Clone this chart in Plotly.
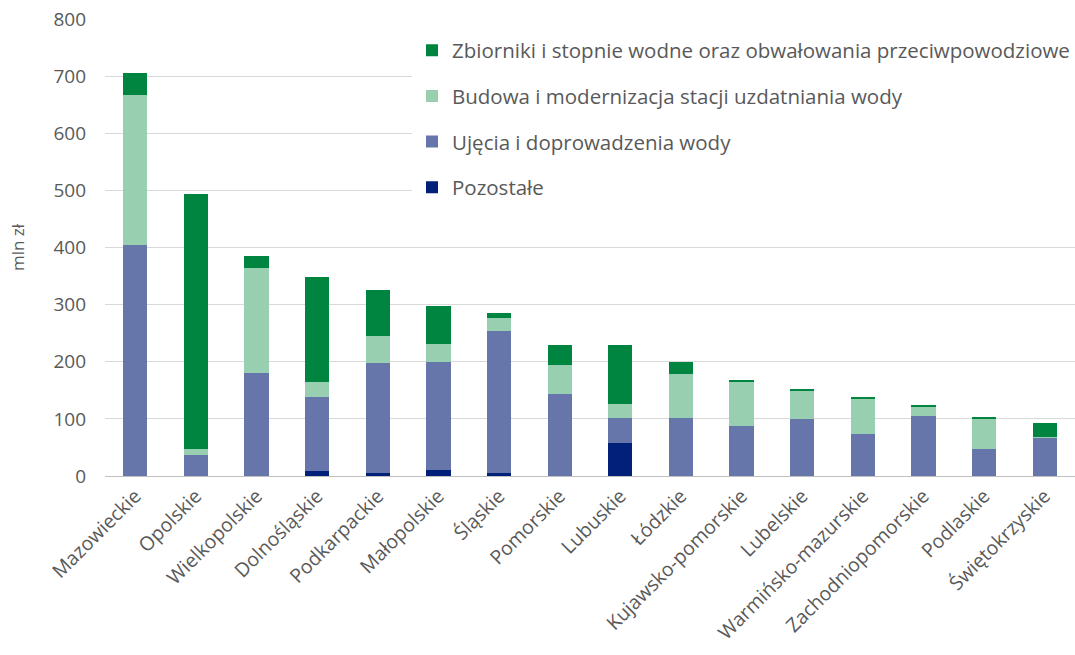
import plotly.graph_objects as go

regions = ["Mazowieckie", "Opolskie", "Wielkopolskie", "Dolnośląskie", "Podkarpackie",
           "Małopolskie", "Śląskie", "Pomorskie", "Lubuskie", "Łódzkie",
           "Kujawsko-pomorskie", "Lubelskie", "Warmińsko-mazurskie",
           "Zachodniopomorskie", "Podlaskie", "Świętokrzyskie"]

pozostale = [0, 0, 0, 9, 5, 10, 5, 0, 57, 0, 0, 0, 0, 0, 0, 0]
ujecia = [405, 36, 180, 129, 193, 190, 248, 143, 44, 101, 87, 100, 73, 105, 48, 67]
budowa = [262, 12, 184, 27, 47, 31, 24, 51, 25, 78, 78, 49, 63, 17, 52, 2]
zbiorniki = [38, 446, 22, 183, 81, 67, 9, 36, 104, 21, 2, 2, 2, 3, 4, 24]

series = [
    ("Pozostałe", pozostale, "#00207A", 4),
    ("Ujęcia i doprowadzenia wody", ujecia, "#6676AB", 3),
    ("Budowa i modernizacja stacji uzdatniania wody", budowa, "#99CFB1", 2),
    ("Zbiorniki i stopnie wodne oraz obwałowania przeciwpowodziowe", zbiorniki, "#008540", 1),
]

FONT = "Open Sans"
GRAY = "#595959"

fig = go.Figure()
for name, vals, col, rank in series:
    fig.add_trace(go.Bar(x=regions, y=vals, name=name, marker_color=col,
                         marker_line_width=0, legendgroup=name, legendrank=rank))

fig.update_layout(
    barmode="stack",
    bargap=0.6,
    width=1075, height=655,
    margin=dict(l=105, r=0, t=19, b=179),
    plot_bgcolor="white", paper_bgcolor="white",
    font=dict(family=FONT, size=19, color=GRAY),
    legend=dict(x=1, xanchor="right", y=0.975, yanchor="top",
                bgcolor="white", traceorder="grouped",
                tracegroupgap=16, font=dict(size=20.5, color=GRAY),
                itemwidth=30),
    yaxis=dict(range=[0, 800], dtick=100, showgrid=True, gridcolor="#D9D9D9",
               gridwidth=1, zeroline=False, showline=False,
               ticks="", tickfont=dict(size=19, color=GRAY), ticklabelstandoff=18,
               title=dict(text="mln zł", standoff=24, font=dict(size=17, color=GRAY))),
    xaxis=dict(tickangle=-45, showline=True, linecolor="#BFBFBF", linewidth=1,
               ticks="", tickfont=dict(size=19.5, color=GRAY)),
)

fig.write_html("out.html", post_script="document.body.style.margin='0';",
               config={"displayModeBar": False})
